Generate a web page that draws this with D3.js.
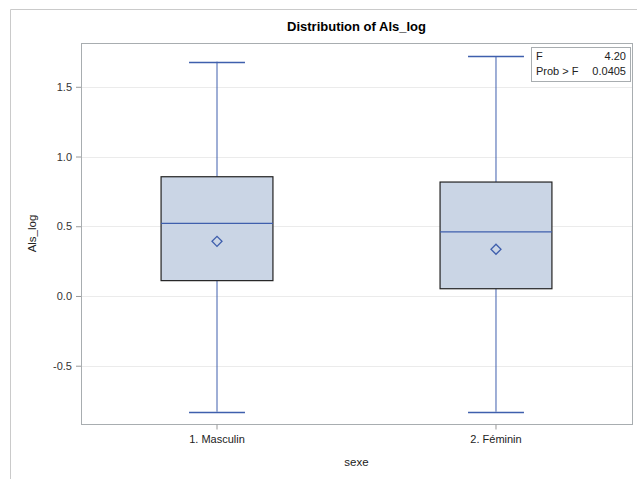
<!DOCTYPE html>
<html>
<head>
<meta charset="utf-8">
<script src="https://cdn.jsdelivr.net/npm/d3@7"></script>
<style>
  body { margin: 0; background: #fff; }
  text { font-family: "Liberation Sans", Arial, sans-serif; }
</style>
</head>
<body>
<div id="chart"></div>
<script>
const categories = ["1. Masculin", "2. Féminin"];
const whiskerLow = [-0.83, -0.83];
const q1 = [0.11, 0.052];
const medians = [0.521, 0.459];
const q3 = [0.855, 0.817];
const whiskerHigh = [1.68, 1.72];
const means = [0.392, 0.335];
const yTicks = [-0.5, 0.0, 0.5, 1.0, 1.5];
const statLabels = ["F", "Prob > F"];
const statValues = ["4.20", "0.0405"];

const width = 637, height = 479;
const margin = { top: 43, right: 5, bottom: 55, left: 81 };
const plotW = width - margin.left - margin.right;
const plotH = height - margin.top - margin.bottom;
const blue = "#3F5FAD";
const tickColor = "#333";

const svg = d3.select("#chart")
    .append("svg")
    .attr("width", width)
    .attr("height", height);

// outer frame (partial)
svg.append("path")
    .attr("d", "M10.5," + height + "V9.5H" + width)
    .attr("fill", "none")
    .attr("stroke", "#CACACA");

svg.append("text")
    .attr("x", margin.left + plotW / 2)
    .attr("y", 31)
    .attr("text-anchor", "middle")
    .style("font-size", "13px")
    .style("font-weight", "bold")
    .text("Distribution of Als_log");

const x = d3.scaleBand()
    .domain(categories)
    .range([0, plotW])
    .paddingInner(0.599)
    .paddingOuter(0.287);

const y = d3.scaleLinear()
    .domain([-0.918, 1.814])
    .range([plotH, 0]);

const chart = svg.append("g")
    .attr("transform", "translate(" + margin.left + "," + margin.top + ")");

// grid
chart.selectAll(".grid")
    .data(yTicks)
    .join("line")
    .attr("x1", 0).attr("x2", plotW)
    .attr("y1", d => Math.round(y(d)) + 0.5)
    .attr("y2", d => Math.round(y(d)) + 0.5)
    .attr("stroke", "#EBEBEB");

const bw = x.bandwidth();
const boxes = chart.selectAll(".box")
    .data(categories)
    .join("g")
    .attr("transform", d => "translate(" + x(d) + ",0)");

// whiskers
boxes.append("line")
    .attr("x1", bw / 2).attr("x2", bw / 2)
    .attr("y1", (d, i) => y(whiskerHigh[i]))
    .attr("y2", (d, i) => y(q3[i]))
    .attr("stroke", blue);
boxes.append("line")
    .attr("x1", bw / 2).attr("x2", bw / 2)
    .attr("y1", (d, i) => y(q1[i]))
    .attr("y2", (d, i) => y(whiskerLow[i]))
    .attr("stroke", blue);
[whiskerHigh, whiskerLow].forEach(arr => {
    boxes.append("line")
        .attr("x1", bw / 4).attr("x2", bw * 3 / 4)
        .attr("y1", (d, i) => Math.round(y(arr[i])) + 0.5)
        .attr("y2", (d, i) => Math.round(y(arr[i])) + 0.5)
        .attr("stroke", blue)
        .attr("stroke-width", 1.3);
});

boxes.append("rect")
    .attr("x", 0)
    .attr("width", bw)
    .attr("y", (d, i) => y(q3[i]))
    .attr("height", (d, i) => y(q1[i]) - y(q3[i]))
    .attr("fill", "#CAD5E5")
    .attr("stroke", "#222")
    .attr("stroke-width", 1.2);

boxes.append("line")
    .attr("x1", 0).attr("x2", bw)
    .attr("y1", (d, i) => y(medians[i]))
    .attr("y2", (d, i) => y(medians[i]))
    .attr("stroke", blue)
    .attr("stroke-width", 1.3);

boxes.append("path")
    .attr("d", d3.symbol(d3.symbolSquare, 50))
    .attr("transform", (d, i) => "translate(" + bw / 2 + "," + y(means[i]) + ") rotate(45)")
    .attr("fill", "none")
    .attr("stroke", blue)
    .attr("stroke-width", 1.3);

// plot frame
chart.append("rect")
    .attr("x", 0.5).attr("y", 0.5)
    .attr("width", plotW).attr("height", plotH)
    .attr("fill", "none")
    .attr("stroke", "#A8ADB0");

// axes
const yAxis = d3.axisLeft(y).tickValues(yTicks)
    .tickFormat(d => d3.format(".1f")(d).replace("−", "-"))
    .tickSize(5).tickPadding(4);
const gy = chart.append("g").call(yAxis);
gy.select(".domain").remove();
gy.selectAll("line").attr("stroke", "#999");
gy.selectAll("text").style("font-size", "11px").attr("fill", tickColor)
    .style("font-family", "'Liberation Sans', Arial, sans-serif");

const xAxis = d3.axisBottom(x).tickSize(5).tickPadding(6);
const gx = chart.append("g").attr("transform", "translate(0," + (plotH + 0.5) + ")").call(xAxis);
gx.select(".domain").remove();
gx.selectAll("line").attr("stroke", "#999");
gx.selectAll("text").style("font-size", "11px").attr("fill", "#222")
    .style("font-family", "'Liberation Sans', Arial, sans-serif");

svg.append("text")
    .attr("transform", "translate(36," + (margin.top + plotH / 2) + ") rotate(-90)")
    .attr("text-anchor", "middle")
    .style("font-size", "11.5px")
    .attr("fill", "#222")
    .text("Als_log");

svg.append("text")
    .attr("x", margin.left + plotW / 2)
    .attr("y", 466)
    .attr("text-anchor", "middle")
    .style("font-size", "11.5px")
    .attr("fill", "#222")
    .text("sexe");

// stats inset
const inset = chart.append("g").attr("transform", "translate(" + (plotW - 101) + ",4)");
inset.append("rect")
    .attr("x", 0.5).attr("y", 0.5)
    .attr("width", 99).attr("height", 34)
    .attr("fill", "#fff")
    .attr("stroke", "#A8ADB0");
statLabels.forEach((lab, i) => {
    inset.append("text").attr("x", 5).attr("y", 13 + i * 15)
        .style("font-size", "11px").attr("fill", "#222").text(lab);
    inset.append("text").attr("x", 95).attr("y", 13 + i * 15)
        .attr("text-anchor", "end")
        .style("font-size", "11px").attr("fill", "#222").text(statValues[i]);
});
</script>
</body>
</html>
